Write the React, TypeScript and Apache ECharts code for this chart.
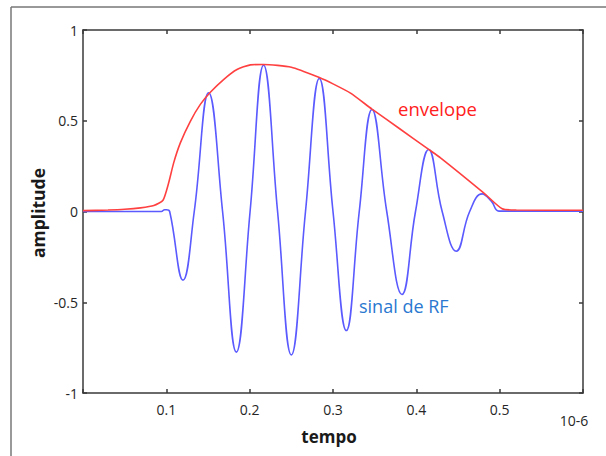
import React, { useEffect, useRef } from "react";
import * as echarts from "echarts";

// tempo (x 10^-6) and amplitude
const rfTime = [0, 0.05, 0.094, 0.098, 0.1, 0.104, 0.12, 0.1335, 0.1507, 0.1675, 0.184, 0.2005, 0.2167, 0.2335, 0.25, 0.267, 0.2836, 0.3, 0.316, 0.3315, 0.3468, 0.3645, 0.3828, 0.399, 0.4148, 0.431, 0.448, 0.464, 0.479, 0.49, 0.499, 0.52, 0.6];
const rfAmp = [0, 0, 0, 0.01, 0.01, 0, -0.378, 0, 0.654, 0, -0.775, 0, 0.806, 0, -0.79, 0, 0.733, 0, -0.656, 0, 0.562, 0, -0.457, 0, 0.342, 0, -0.219, 0, 0.097, 0.057, 0.002, 0.002, 0.002];

const envTime = [0, 0.03, 0.05, 0.069, 0.085, 0.096, 0.1028, 0.1088, 0.1168, 0.1288, 0.1408, 0.1528, 0.1687, 0.1848, 0.2008, 0.2167, 0.25, 0.2836, 0.3, 0.321, 0.3468, 0.38, 0.4148, 0.429, 0.4808, 0.503, 0.52, 0.6];
const envAmp = [0.005, 0.008, 0.012, 0.02, 0.033, 0.062, 0.158, 0.268, 0.378, 0.497, 0.59, 0.657, 0.727, 0.782, 0.808, 0.81, 0.795, 0.738, 0.703, 0.652, 0.564, 0.456, 0.342, 0.296, 0.103, 0.015, 0.008, 0.007];

const xTicks = [0.1, 0.2, 0.3, 0.4, 0.5];
const yTicks = [-1, -0.5, 0, 0.5, 1];

const xLabel = "tempo";
const yLabel = "amplitude";
const unitLabel = "10-6";
const envLabel = "envelope";
const rfLabel = "sinal de RF";

export default function App() {
  const ref = useRef<HTMLDivElement>(null);
  useEffect(() => {
    if (!ref.current) return;
    const chart = echarts.init(ref.current, null, { renderer: "svg" });
    const font = "'Open Sans', 'Noto Sans', sans-serif";
    const axisColor = "#3a3a3a";
    const tickColor = "#262626";
    const fmtX = (v: number) => {
      const r = Math.round(v * 10) / 10;
      return xTicks.some((t) => Math.abs(t - r) < 1e-9) ? String(r) : "";
    };
    const fmtY = (v: number) => {
      const r = Math.round(v * 10) / 10;
      return yTicks.some((t) => Math.abs(t - r) < 1e-9) ? String(r) : "";
    };
    const axisBase = {
      axisLine: { show: true, onZero: false, lineStyle: { color: axisColor, width: 1.5 } },
      axisTick: { show: true, inside: true, length: 4, lineStyle: { color: axisColor, width: 1.5 } },
      splitLine: { show: false },
    };
    chart.setOption({
      animation: false,
      backgroundColor: "#ffffff",
      grid: { left: 83, top: 30, right: 23, bottom: 63, containLabel: false },
      xAxis: [
        {
          type: "value", min: 0, max: 0.6, interval: 0.1, position: "bottom", ...axisBase,
          axisLabel: { formatter: fmtX, color: tickColor, fontSize: 14, fontFamily: font, margin: 9 },
        },
        {
          type: "value", min: 0, max: 0.6, interval: 0.1, position: "top", ...axisBase,
          axisLabel: { show: false },
        },
      ],
      yAxis: [
        {
          type: "value", min: -1, max: 1, interval: 0.5, position: "left", ...axisBase,
          axisLabel: { formatter: fmtY, color: tickColor, fontSize: 14, fontFamily: font, margin: 5 },
        },
        {
          type: "value", min: -1, max: 1, interval: 0.5, position: "right", ...axisBase,
          axisLabel: { show: false },
        },
      ],
      series: [
        {
          name: "envelope", type: "line", xAxisIndex: 0, yAxisIndex: 0,
          data: envTime.map((t, i) => [t, envAmp[i]]),
          showSymbol: false, smooth: 0.2,
          lineStyle: { color: "#ff4040", width: 1.6 },
          z: 3,
        },
        {
          name: "sinal de RF", type: "line", xAxisIndex: 0, yAxisIndex: 0,
          data: rfTime.map((t, i) => [t, rfAmp[i]]),
          showSymbol: false, smooth: 0.45,
          lineStyle: { color: "#5a5aff", width: 1.6 },
          z: 2,
        },
      ],
      graphic: [
        { type: "line", shape: { x1: 11, y1: 7, x2: 606, y2: 7 }, style: { stroke: "#333", lineWidth: 1 } },
        { type: "line", shape: { x1: 11, y1: 7, x2: 11, y2: 456 }, style: { stroke: "#777", lineWidth: 1.5 } },
        { type: "text", x: 329, y: 436, style: { text: xLabel, font: `bold 17px ${font}`, fill: "#1a1a1a", align: "center", verticalAlign: "middle" } },
        { type: "text", x: 574, y: 420, style: { text: unitLabel, font: `14px ${font}`, fill: tickColor, align: "center", verticalAlign: "middle" } },
        {
          type: "text", x: 38, y: 213, rotation: Math.PI / 2,
          style: { text: yLabel, font: `bold 17.5px ${font}`, fill: "#1a1a1a", align: "center", verticalAlign: "middle" },
        },
        { type: "text", x: 398, y: 108, style: { text: envLabel, font: `18.5px ${font}`, fill: "#ff2020", verticalAlign: "middle" } },
        { type: "text", x: 359, y: 306, style: { text: rfLabel, font: `18px ${font}`, fill: "#2a78d0", verticalAlign: "middle" } },
      ],
    });
    return () => chart.dispose();
  }, []);
  return <div ref={ref} style={{ position: "fixed", left: 0, top: 0, width: 606, height: 456 }} />;
}
